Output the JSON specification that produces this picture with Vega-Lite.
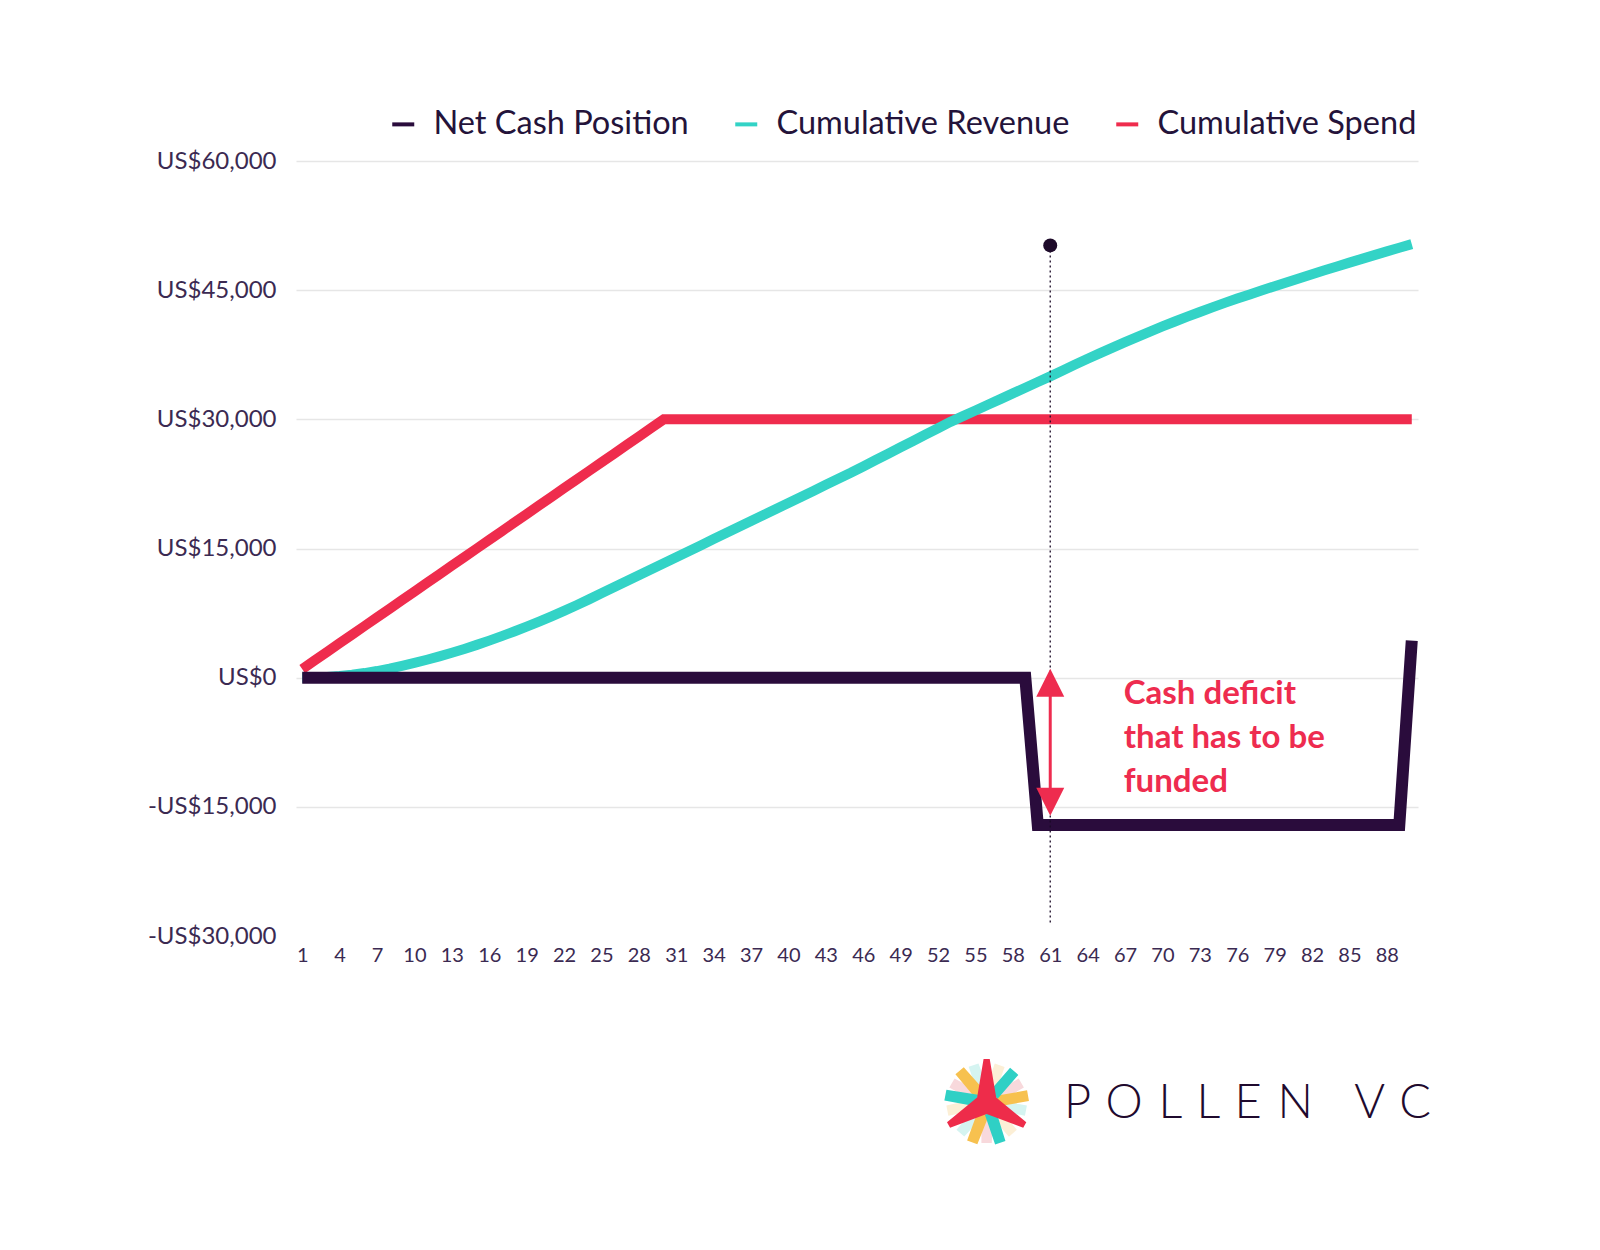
{
  "$schema": "https://vega.github.io/schema/vega-lite/v6.json",
  "width": 1122,
  "height": 775,
  "autosize": {"type": "none"},
  "padding": {"left": 296, "top": 161, "right": 182, "bottom": 314},
  "background": "white",
  "config": {"view": {"stroke": null}, "font": "Lato", "axisX": {"labelOverlap": false}, "legend": {"labelLimit": 1000}},
  "data": {"values": [
    {"day":1,"net":0,"revenue":0,"spend":1000},
    {"day":2,"net":0,"revenue":21,"spend":2000},
    {"day":3,"net":0,"revenue":85,"spend":3000},
    {"day":4,"net":0,"revenue":192,"spend":4000},
    {"day":5,"net":0,"revenue":341,"spend":5000},
    {"day":6,"net":0,"revenue":533,"spend":6000},
    {"day":7,"net":0,"revenue":768,"spend":7000},
    {"day":8,"net":0,"revenue":1045,"spend":8000},
    {"day":9,"net":0,"revenue":1363,"spend":9000},
    {"day":10,"net":0,"revenue":1708,"spend":10000},
    {"day":11,"net":0,"revenue":2078,"spend":11000},
    {"day":12,"net":0,"revenue":2473,"spend":12000},
    {"day":13,"net":0,"revenue":2893,"spend":13000},
    {"day":14,"net":0,"revenue":3338,"spend":14000},
    {"day":15,"net":0,"revenue":3808,"spend":15000},
    {"day":16,"net":0,"revenue":4303,"spend":16000},
    {"day":17,"net":0,"revenue":4823,"spend":17000},
    {"day":18,"net":0,"revenue":5365,"spend":18000},
    {"day":19,"net":0,"revenue":5930,"spend":19000},
    {"day":20,"net":0,"revenue":6518,"spend":20000},
    {"day":21,"net":0,"revenue":7128,"spend":21000},
    {"day":22,"net":0,"revenue":7760,"spend":22000},
    {"day":23,"net":0,"revenue":8415,"spend":23000},
    {"day":24,"net":0,"revenue":9093,"spend":24000},
    {"day":25,"net":0,"revenue":9790,"spend":25000},
    {"day":26,"net":0,"revenue":10490,"spend":26000},
    {"day":27,"net":0,"revenue":11190,"spend":27000},
    {"day":28,"net":0,"revenue":11890,"spend":28000},
    {"day":29,"net":0,"revenue":12590,"spend":29000},
    {"day":30,"net":0,"revenue":13290,"spend":30000},
    {"day":31,"net":0,"revenue":13990,"spend":30000},
    {"day":32,"net":0,"revenue":14690,"spend":30000},
    {"day":33,"net":0,"revenue":15390,"spend":30000},
    {"day":34,"net":0,"revenue":16090,"spend":30000},
    {"day":35,"net":0,"revenue":16790,"spend":30000},
    {"day":36,"net":0,"revenue":17490,"spend":30000},
    {"day":37,"net":0,"revenue":18190,"spend":30000},
    {"day":38,"net":0,"revenue":18890,"spend":30000},
    {"day":39,"net":0,"revenue":19590,"spend":30000},
    {"day":40,"net":0,"revenue":20290,"spend":30000},
    {"day":41,"net":0,"revenue":20990,"spend":30000},
    {"day":42,"net":0,"revenue":21690,"spend":30000},
    {"day":43,"net":0,"revenue":22390,"spend":30000},
    {"day":44,"net":0,"revenue":23090,"spend":30000},
    {"day":45,"net":0,"revenue":23790,"spend":30000},
    {"day":46,"net":0,"revenue":24530,"spend":30000},
    {"day":47,"net":0,"revenue":25270,"spend":30000},
    {"day":48,"net":0,"revenue":26010,"spend":30000},
    {"day":49,"net":0,"revenue":26750,"spend":30000},
    {"day":50,"net":0,"revenue":27490,"spend":30000},
    {"day":51,"net":0,"revenue":28230,"spend":30000},
    {"day":52,"net":0,"revenue":28970,"spend":30000},
    {"day":53,"net":0,"revenue":29710,"spend":30000},
    {"day":54,"net":0,"revenue":30370,"spend":30000},
    {"day":55,"net":0,"revenue":31030,"spend":30000},
    {"day":56,"net":0,"revenue":31690,"spend":30000},
    {"day":57,"net":0,"revenue":32350,"spend":30000},
    {"day":58,"net":0,"revenue":33010,"spend":30000},
    {"day":59,"net":0,"revenue":33670,"spend":30000},
    {"day":60,"net":-17100,"revenue":34330,"spend":30000},
    {"day":61,"net":-17100,"revenue":34990,"spend":30000},
    {"day":62,"net":-17100,"revenue":35684,"spend":30000},
    {"day":63,"net":-17100,"revenue":36365,"spend":30000},
    {"day":64,"net":-17100,"revenue":37034,"spend":30000},
    {"day":65,"net":-17100,"revenue":37690,"spend":30000},
    {"day":66,"net":-17100,"revenue":38334,"spend":30000},
    {"day":67,"net":-17100,"revenue":38965,"spend":30000},
    {"day":68,"net":-17100,"revenue":39584,"spend":30000},
    {"day":69,"net":-17100,"revenue":40190,"spend":30000},
    {"day":70,"net":-17100,"revenue":40783,"spend":30000},
    {"day":71,"net":-17100,"revenue":41360,"spend":30000},
    {"day":72,"net":-17100,"revenue":41923,"spend":30000},
    {"day":73,"net":-17100,"revenue":42470,"spend":30000},
    {"day":74,"net":-17100,"revenue":43003,"spend":30000},
    {"day":75,"net":-17100,"revenue":43520,"spend":30000},
    {"day":76,"net":-17100,"revenue":44023,"spend":30000},
    {"day":77,"net":-17100,"revenue":44510,"spend":30000},
    {"day":78,"net":-17100,"revenue":44988,"spend":30000},
    {"day":79,"net":-17100,"revenue":45460,"spend":30000},
    {"day":80,"net":-17100,"revenue":45928,"spend":30000},
    {"day":81,"net":-17100,"revenue":46392,"spend":30000},
    {"day":82,"net":-17100,"revenue":46850,"spend":30000},
    {"day":83,"net":-17100,"revenue":47304,"spend":30000},
    {"day":84,"net":-17100,"revenue":47752,"spend":30000},
    {"day":85,"net":-17100,"revenue":48196,"spend":30000},
    {"day":86,"net":-17100,"revenue":48636,"spend":30000},
    {"day":87,"net":-17100,"revenue":49070,"spend":30000},
    {"day":88,"net":-17100,"revenue":49500,"spend":30000},
    {"day":89,"net":-17100,"revenue":49924,"spend":30000},
    {"day":90,"net":4300,"revenue":50344,"spend":30000}
  ]},
  "layer": [
    {
      "mark": {"type": "line", "strokeWidth": 10, "strokeCap": "butt", "strokeJoin": "miter"},
      "encoding": {
        "x": {"field": "day", "type": "quantitative", "title": null,
          "scale": {"domain": [0.5, 90.5], "nice": false, "zero": false},
          "axis": {"values": [1,4,7,10,13,16,19,22,25,28,31,34,37,40,43,46,49,52,55,58,61,64,67,70,73,76,79,82,85,88],
            "tickCount": 100,
            "labelFontSize": 20, "labelColor": "#3b2a52", "labelPadding": 9, "ticks": false, "domain": false, "grid": false,
            "labelFlush": false, "labelOverlap": false, "labelFont": "Lato", "title": null}},
        "y": {"field": "spend", "type": "quantitative", "title": null,
          "scale": {"domain": [-30000, 60000], "nice": false},
          "axis": {"values": [-30000,-15000,0,15000,30000,45000,60000],
            "labelExpr": "(datum.value < 0 ? '-' : '') + 'US$' + format(abs(datum.value), ',')",
            "labelFontSize": 24, "labelColor": "#3b2a52", "labelPadding": 20, "ticks": false, "domain": false,
            "gridColor": "#e6e6e6", "gridWidth": 1.5,
            "gridOpacity": {"condition": {"test": "datum.value === -30000", "value": 0}, "value": 1},
            "labelFont": "Lato", "title": null}},
        "color": {"datum": "Cumulative Spend", "type": "nominal",
          "scale": {"domain": ["Net Cash Position", "Cumulative Revenue", "Cumulative Spend"], "range": ["#2a0c3c", "#33d3c6", "#ef2c4d"]},
          "legend": {"orient": "none", "legendX": 91, "legendY": -53, "direction": "horizontal", "title": null,
            "symbolType": "stroke", "symbolSize": 484, "symbolStrokeWidth": 4, "labelFontSize": 32.5, "labelFont": "Lato",
            "labelColor": "#24133a", "labelOffset": 14, "columnPadding": 38, "labelLimit": 1000}}
      }
    },
    {
      "mark": {"type": "line", "strokeWidth": 10, "strokeCap": "butt"},
      "encoding": {
        "x": {"field": "day", "type": "quantitative", "title": null},
        "y": {"field": "revenue", "type": "quantitative", "title": null},
        "color": {"datum": "Cumulative Revenue", "type": "nominal"}
      }
    },
    {
      "mark": {"type": "line", "strokeWidth": 12, "strokeCap": "butt", "strokeJoin": "miter"},
      "encoding": {
        "x": {"field": "day", "type": "quantitative", "title": null},
        "y": {"field": "net", "type": "quantitative", "title": null},
        "color": {"datum": "Net Cash Position", "type": "nominal"}
      }
    },
    {
      "data": {"values": [{}]},
      "mark": {"type": "rule", "color": "#1a0a26", "strokeWidth": 1.3, "strokeDash": [2, 3]},
      "encoding": {"x": {"datum": 61}, "y": {"datum": 50200}, "y2": {"datum": -28560}}
    },
    {
      "data": {"values": [{}]},
      "mark": {"type": "point", "filled": true, "shape": "circle", "size": 196, "color": "#1e0b2a", "opacity": 1},
      "encoding": {"x": {"datum": 61}, "y": {"datum": 50200}}
    },
    {
      "data": {"values": [{}]},
      "mark": {"type": "rule", "color": "#ee2c4f", "strokeWidth": 3},
      "encoding": {"x": {"datum": 61}, "y": {"datum": -590}, "y2": {"datum": -14410}}
    },
    {
      "data": {"values": [{}]},
      "mark": {"type": "point", "filled": true, "shape": "M0,-1L-1,1L1,1Z", "size": 784, "color": "#ee2c4f", "opacity": 1},
      "encoding": {"x": {"datum": 61}, "y": {"datum": -590}}
    },
    {
      "data": {"values": [{}]},
      "mark": {"type": "point", "filled": true, "shape": "M0,1L-1,-1L1,-1Z", "size": 784, "color": "#ee2c4f", "opacity": 1},
      "encoding": {"x": {"datum": 61}, "y": {"datum": -14410}}
    },
    {
      "data": {"values": [{}]},
      "mark": {"type": "text", "text": ["Cash deficit", "that has to be", "funded"], "align": "left", "baseline": "middle",
        "font": "Lato", "fontWeight": "bold", "fontSize": 33, "lineHeight": 44, "color": "#ee2c4f"},
      "encoding": {"x": {"datum": 66.9}, "y": {"datum": -1900}}
    },
    {
      "data": {"values": [{}]},
      "mark": {"type": "point", "filled": true, "opacity": 1, "strokeWidth": 0, "size": 6400, "angle": 19, "color": "#fcefd6",
        "shape": "M-0.13,-0.25L0.13,-0.25L0.13,-1L-0.13,-1ZM0.282,-0.012L0.152,0.238L0.801,0.614L0.931,0.389ZM-0.152,0.238L-0.282,-0.012L-0.931,0.389L-0.801,0.614Z"},
      "encoding": {"x": {"datum": 55.9}, "y": {"datum": -49394}}
    },
    {
      "data": {"values": [{}]},
      "mark": {"type": "point", "filled": true, "opacity": 1, "strokeWidth": 0, "size": 6400, "angle": 101, "color": "#d5f4f1",
        "shape": "M-0.13,-0.25L0.13,-0.25L0.13,-1L-0.13,-1ZM0.282,-0.012L0.152,0.238L0.801,0.614L0.931,0.389ZM-0.152,0.238L-0.282,-0.012L-0.931,0.389L-0.801,0.614Z"},
      "encoding": {"x": {"datum": 55.9}, "y": {"datum": -49394}}
    },
    {
      "data": {"values": [{}]},
      "mark": {"type": "point", "filled": true, "opacity": 1, "strokeWidth": 0, "size": 6400, "angle": 60, "color": "#f8d9dc",
        "shape": "M-0.13,-0.25L0.13,-0.25L0.13,-1L-0.13,-1ZM0.282,-0.012L0.152,0.238L0.801,0.614L0.931,0.389ZM-0.152,0.238L-0.282,-0.012L-0.931,0.389L-0.801,0.614Z"},
      "encoding": {"x": {"datum": 55.9}, "y": {"datum": -49394}}
    },
    {
      "data": {"values": [{}]},
      "mark": {"type": "point", "filled": true, "opacity": 1, "strokeWidth": 0, "size": 7056, "angle": 80, "color": "#f7c14f",
        "shape": "M-0.13,-0.25L0.13,-0.25L0.13,-1L-0.13,-1ZM0.282,-0.012L0.152,0.238L0.801,0.614L0.931,0.389ZM-0.152,0.238L-0.282,-0.012L-0.931,0.389L-0.801,0.614Z"},
      "encoding": {"x": {"datum": 55.9}, "y": {"datum": -49394}}
    },
    {
      "data": {"values": [{}]},
      "mark": {"type": "point", "filled": true, "opacity": 1, "strokeWidth": 0, "size": 7056, "angle": 41, "color": "#2fd0c5",
        "shape": "M-0.13,-0.25L0.13,-0.25L0.13,-1L-0.13,-1ZM0.282,-0.012L0.152,0.238L0.801,0.614L0.931,0.389ZM-0.152,0.238L-0.282,-0.012L-0.931,0.389L-0.801,0.614Z"},
      "encoding": {"x": {"datum": 55.9}, "y": {"datum": -49394}}
    },
    {
      "data": {"values": [{}]},
      "mark": {"type": "point", "filled": true, "opacity": 1, "strokeWidth": 0, "size": 7744, "angle": 0, "color": "#ee2c4a",
        "shape": "M-0.07,-1L0.07,-1L0.217,-0.125L0.901,0.439L0.831,0.561L0,0.25L-0.831,0.561L-0.901,0.439L-0.217,-0.125Z"},
      "encoding": {"x": {"datum": 55.9}, "y": {"datum": -49394}}
    },
    {
      "data": {"values": [{}]},
      "mark": {"type": "text", "text": "P\u00a0\u200aO\u00a0\u200aL\u00a0\u200aL\u00a0\u200aE\u00a0\u200aN\u00a0\u00a0\u00a0\u200aV\u00a0\u200aC", "align": "left", "baseline": "middle",
        "font": "Lato", "fontWeight": 300, "fontSize": 47, "color": "#1f0a2e"},
      "encoding": {"x": {"datum": 62.1}, "y": {"datum": -49510}}
    }
  ]
}
